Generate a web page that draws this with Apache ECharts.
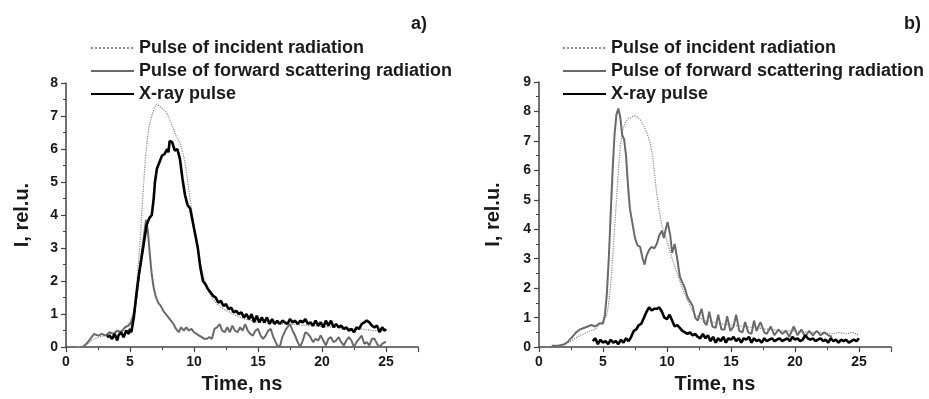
<!DOCTYPE html>
<html><head><meta charset="utf-8">
<script src="https://cdn.jsdelivr.net/npm/echarts@6/dist/echarts.min.js"></script>
<style>html,body{margin:0;padding:0;background:#fff}#c{width:929px;height:399px}</style>
</head><body><div id="c"></div>
<script>
// ---------- DATA (time in ns, intensity in rel. units) ----------
const seriesNames = ['Pulse of incident radiation','Pulse of forward scattering radiation','X-ray pulse'];
const panelLabels = ['a)','b)'];
const xTicks = [0,5,10,15,20,25];

const incidentA = [[0.8,0],[1.5,0.05],[2,0.2],[2.5,0.3],[3,0.35],[3.5,0.4],[4,0.45],[4.5,0.55],[5,0.75],[5.13,0.8],[5.3,1.1],[5.5,1.8],[5.65,2.5],[5.8,3.3],[6.04,4.8],[6.2,5.7],[6.35,6.3],[6.5,6.7],[6.7,7.0],[6.9,7.25],[7.08,7.36],[7.3,7.3],[7.6,7.2],[7.87,7.1],[8.2,6.8],[8.6,6.4],[8.95,6.15],[9.3,5.6],[9.55,4.9],[9.8,4.2],[10.1,3.4],[10.4,2.7],[10.7,2.2],[11,1.8],[11.4,1.5],[11.8,1.3],[12.3,1.15],[12.8,1.05],[13.3,0.95],[14,0.85],[15,0.75],[16,0.72],[17,0.7],[18,0.68],[19,0.65],[20,0.62],[21,0.6],[22,0.55],[23,0.55],[24,0.5],[25,0.5]];

const forwardA = [[1.3,0],[1.6,0.1],[1.9,0.25],[2.2,0.4],[2.5,0.35],[2.8,0.4],[3.1,0.35],[3.4,0.45],[3.7,0.4],[4.0,0.5],[4.3,0.45],[4.6,0.6],[4.9,0.65],[5.1,0.75],[5.3,1.0],[5.5,1.5],[5.7,2.2],[5.9,2.8],[6.1,3.4],[6.25,3.85],[6.4,3.5],[6.55,2.8],[6.7,2.2],[6.85,1.8],[7.0,1.55],[7.2,1.35],[7.4,1.25],[7.6,1.1],[7.8,1.0],[8.0,0.9],[8.2,0.8],[8.4,0.7],[8.6,0.55],[8.8,0.45],[9.0,0.6],[9.2,0.5],[9.4,0.6],[9.6,0.5],[9.8,0.55],[10.0,0.45],[10.2,0.4],[10.4,0.35],[10.6,0.3],[10.8,0.25],[11.0,0.25],[11.2,0.3],[11.4,0.25],[11.6,0.55],[11.8,0.6],[12.0,0.7],[12.2,0.5],[12.4,0.45],[12.6,0.6],[12.8,0.45],[13.0,0.65],[13.2,0.5],[13.4,0.45],[13.6,0.6],[13.8,0.5],[14.0,0.7],[14.2,0.5],[14.4,0.4],[14.6,0.35],[14.8,0.5],[15.0,0.55],[15.2,0.35],[15.4,0.25],[15.6,0.35],[15.8,0.5],[16.0,0.55],[16.2,0.3],[16.5,0.05],[16.7,0.0],[16.9,0.3],[17.2,0.55],[17.5,0.7],[17.7,0.5],[17.9,0.35],[18.1,0.15],[18.3,0.0],[18.5,0.2],[18.7,0.45],[18.9,0.4],[19.1,0.3],[19.3,0.15],[19.5,0.25],[19.7,0.2],[19.9,0.35],[20.1,0.2],[20.3,0.05],[20.5,0.25],[20.7,0.3],[20.9,0.15],[21.1,0.2],[21.3,0.3],[21.5,0.15],[21.7,0.05],[21.9,0.2],[22.1,0.3],[22.3,0.2],[22.5,0.0],[22.7,0.15],[22.9,0.25],[23.1,0.35],[23.3,0.1],[23.5,0.15],[23.7,0.05],[23.9,0.25],[24.1,0.25],[24.3,0.1],[24.5,0.0],[24.7,0.1],[24.9,0.15],[25.0,0.15]];

const xrayA = [[3.2,0.3],[3.4,0.35],[3.6,0.25],[3.8,0.4],[4.0,0.2],[4.1,0.35],[4.3,0.45],[4.5,0.3],[4.7,0.5],[4.9,0.4],[5.0,0.55],[5.1,0.45],[5.3,0.9],[5.5,1.6],[5.7,2.2],[5.9,2.7],[6.1,3.2],[6.3,3.7],[6.5,3.9],[6.7,4.0],[6.85,4.5],[6.95,5.0],[7.1,5.4],[7.3,5.6],[7.5,5.8],[7.7,5.85],[7.9,6.0],[8.0,5.9],[8.1,6.25],[8.3,6.2],[8.5,5.95],[8.7,6.0],[8.9,5.7],[9.1,5.1],[9.3,4.6],[9.5,4.3],[9.7,4.2],[9.9,3.8],[10.1,3.4],[10.3,3.0],[10.5,2.4],[10.7,2.0],[10.9,1.9],[11.1,1.75],[11.3,1.65],[11.5,1.55],[11.7,1.5],[11.9,1.35],[12.1,1.4],[12.3,1.25],[12.5,1.3],[12.7,1.15],[12.9,1.2],[13.1,1.05],[13.3,1.1],[13.5,1.0],[13.7,1.05],[13.9,0.9],[14.1,1.0],[14.3,0.85],[14.5,1.0],[14.7,0.75],[14.9,0.95],[15.1,0.75],[15.3,0.9],[15.5,0.75],[15.7,0.9],[15.9,0.7],[16.1,0.85],[16.3,0.7],[16.5,0.8],[16.7,0.7],[16.9,0.8],[17.1,0.75],[17.3,0.7],[17.5,0.85],[17.7,0.75],[17.9,0.8],[18.1,0.7],[18.3,0.8],[18.5,0.75],[18.7,0.85],[18.9,0.7],[19.1,0.75],[19.3,0.65],[19.5,0.8],[19.7,0.65],[19.9,0.75],[20.1,0.6],[20.3,0.8],[20.5,0.65],[20.7,0.8],[20.9,0.6],[21.1,0.7],[21.3,0.6],[21.5,0.65],[21.7,0.55],[21.9,0.6],[22.1,0.5],[22.3,0.55],[22.5,0.45],[22.7,0.6],[22.9,0.55],[23.1,0.7],[23.3,0.75],[23.5,0.8],[23.7,0.75],[23.9,0.65],[24.1,0.6],[24.3,0.65],[24.5,0.45],[24.7,0.6],[24.9,0.5],[25.0,0.55]];

const incidentB = [[1.0,0],[1.5,0.02],[2.0,0.1],[2.5,0.2],[3.0,0.35],[3.5,0.45],[4.0,0.55],[4.4,0.6],[4.8,0.8],[5.1,0.95],[5.3,1.1],[5.45,1.5],[5.6,2.1],[5.75,3.0],[5.9,4.0],[6.05,5.0],[6.2,6.0],[6.35,6.8],[6.5,7.3],[6.7,7.6],[6.95,7.75],[7.2,7.8],[7.45,7.85],[7.7,7.8],[7.95,7.7],[8.2,7.5],[8.45,7.25],[8.7,6.9],[8.9,6.4],[9.05,5.8],[9.2,5.2],[9.4,4.6],[9.6,4.1],[9.8,3.85],[10.0,3.6],[10.2,3.3],[10.4,3.0],[10.8,2.5],[11.2,2.0],[11.6,1.6],[11.9,1.3],[12.2,1.1],[12.5,1.0],[13.0,0.9],[13.5,0.85],[14,0.8],[15,0.75],[16,0.7],[17,0.65],[18,0.6],[19,0.55],[20,0.55],[21,0.5],[22,0.5],[23,0.45],[23.5,0.5],[24,0.45],[24.5,0.5],[25,0.4]];

const forwardB = [[1.0,0.05],[1.5,0.05],[2.0,0.1],[2.3,0.2],[2.6,0.35],[2.9,0.5],[3.2,0.6],[3.5,0.65],[3.8,0.7],[4.1,0.75],[4.4,0.7],[4.7,0.8],[5.0,0.8],[5.15,1.1],[5.3,1.8],[5.45,3.0],[5.6,4.5],[5.75,6.0],[5.9,7.2],[6.05,7.9],[6.2,8.1],[6.35,7.8],[6.5,7.2],[6.65,7.05],[6.8,6.5],[6.95,5.5],[7.1,4.7],[7.3,4.2],[7.5,3.7],[7.7,3.45],[7.9,3.4],[8.1,3.0],[8.25,2.8],[8.4,3.1],[8.6,3.3],[8.8,3.4],[9.0,3.35],[9.2,3.5],[9.4,3.8],[9.6,3.95],[9.75,3.7],[9.9,4.0],[10.05,4.25],[10.25,3.8],[10.4,3.2],[10.6,3.5],[10.8,3.0],[11.0,2.4],[11.2,2.2],[11.4,2.0],[11.6,1.7],[11.8,1.55],[12.0,1.4],[12.2,1.0],[12.4,0.9],[12.7,1.3],[12.9,0.85],[13.1,0.75],[13.3,1.2],[13.55,0.7],[13.8,0.65],[14.0,1.1],[14.25,0.6],[14.5,0.6],[14.7,1.05],[14.95,0.55],[15.2,0.7],[15.4,1.1],[15.65,0.55],[15.9,0.5],[16.1,0.85],[16.35,0.5],[16.6,0.45],[16.8,0.9],[17.0,0.55],[17.3,0.85],[17.6,0.5],[17.8,0.45],[18.1,0.7],[18.4,0.4],[18.7,0.6],[19.0,0.45],[19.3,0.55],[19.55,0.35],[19.9,0.7],[20.2,0.4],[20.5,0.6],[20.8,0.35],[21.1,0.55],[21.4,0.4],[21.7,0.55],[22.0,0.4],[22.3,0.5],[22.6,0.4],[22.9,0.35]];

const xrayB = [[4.2,0.2],[4.4,0.3],[4.6,0.1],[4.8,0.25],[5.0,0.15],[5.2,0.2],[5.4,0.1],[5.6,0.25],[5.8,0.15],[6.0,0.2],[6.2,0.1],[6.4,0.25],[6.6,0.15],[6.8,0.3],[7.0,0.2],[7.2,0.35],[7.4,0.55],[7.6,0.6],[7.8,0.75],[8.0,0.8],[8.2,1.0],[8.4,1.2],[8.6,1.35],[8.8,1.25],[9.0,1.3],[9.2,1.3],[9.4,1.35],[9.6,1.2],[9.8,1.0],[10.0,0.95],[10.2,1.1],[10.4,0.9],[10.6,0.7],[10.8,0.75],[11.0,0.65],[11.2,0.55],[11.4,0.5],[11.6,0.45],[11.8,0.5],[12.0,0.4],[12.2,0.45],[12.4,0.35],[12.6,0.3],[12.8,0.45],[13.0,0.3],[13.2,0.4],[13.4,0.2],[13.6,0.35],[13.8,0.15],[14.0,0.3],[14.2,0.2],[14.4,0.35],[14.6,0.15],[14.8,0.3],[15.0,0.25],[15.2,0.35],[15.4,0.2],[15.6,0.3],[15.8,0.15],[16.0,0.3],[16.2,0.25],[16.4,0.35],[16.6,0.15],[16.8,0.3],[17.0,0.2],[17.2,0.25],[17.4,0.15],[17.6,0.3],[17.8,0.2],[18.0,0.25],[18.2,0.3],[18.4,0.2],[18.6,0.25],[18.8,0.3],[19.0,0.2],[19.2,0.25],[19.4,0.3],[19.6,0.2],[19.8,0.35],[20.0,0.25],[20.2,0.3],[20.4,0.2],[20.6,0.25],[20.8,0.4],[21.0,0.3],[21.2,0.25],[21.4,0.3],[21.6,0.2],[21.8,0.25],[22.0,0.3],[22.2,0.2],[22.4,0.25],[22.6,0.15],[22.8,0.3],[23.0,0.2],[23.2,0.25],[23.4,0.15],[23.6,0.25],[23.8,0.2],[24.0,0.25],[24.2,0.15],[24.4,0.2],[24.6,0.25],[24.8,0.2],[25.0,0.3]];

const yMaxA = 8, yMaxB = 9;

// ---------- CHART ----------
const FONT = '"Liberation Sans", Arial, sans-serif';
const TXT = '#1a1a1a';
const AX = '#444';
const styles = [
  {color:'#8a8a8a', width:1.2, type:'dotted'},
  {color:'#6a6a6a', width:2, type:'solid'},
  {color:'#000000', width:2.6, type:'solid'}
];
function xAxis(gi){
  return {type:'value', gridIndex:gi, min:0, max:27.5, interval:5,
    name:'Time, ns', nameLocation:'middle', nameGap:24,
    nameTextStyle:{fontFamily:FONT, fontSize:20, fontWeight:'bold', color:TXT},
    axisLine:{lineStyle:{color:AX, width:1.5}},
    axisTick:{length:5, lineStyle:{color:AX, width:1.2}},
    minorTick:{show:true, splitNumber:2, length:3, lineStyle:{color:AX, width:1}},
    axisLabel:{fontFamily:FONT, fontSize:14, fontWeight:'bold', color:TXT, margin:8,
      formatter:v => (xTicks.indexOf(v) >= 0 ? String(v) : '')},
    splitLine:{show:false}};
}
function yAxis(gi, max, gap){
  return {type:'value', gridIndex:gi, min:0, max:max, interval:1,
    name:'I, rel.u.', nameLocation:'middle', nameGap:gap,
    nameTextStyle:{fontFamily:FONT, fontSize:20, fontWeight:'bold', color:TXT},
    axisLine:{show:true, lineStyle:{color:AX, width:1.5}},
    axisTick:{show:true, length:5, lineStyle:{color:AX, width:1.2}},
    minorTick:{show:true, splitNumber:2, length:3, lineStyle:{color:AX, width:1}},
    axisLabel:{fontFamily:FONT, fontSize:14, fontWeight:'bold', color:TXT, margin:8},
    splitLine:{show:false}};
}
function line(name, data, gi, s, z){
  return {type:'line', name:name, data:data, xAxisIndex:gi, yAxisIndex:gi,
    symbol:'none', smooth:false, z:z, animation:false,
    lineStyle:{color:s.color, width:s.width, type:s.type}, itemStyle:{color:s.color}};
}
function legend(left){
  return {orient:'vertical', left:left, top:39, itemWidth:43, itemHeight:14, itemGap:5,
    padding:0, data:seriesNames, selectedMode:false,
    itemStyle:{opacity:0},
    textStyle:{fontFamily:FONT, fontSize:18, lineHeight:18, fontWeight:'bold', color:TXT}};
}
const chart = echarts.init(document.getElementById('c'), null, {renderer:'canvas'});
chart.setOption({
  backgroundColor:'#fff',
  animation:false,
  title:[
    {text:panelLabels[0], left:406, top:10, textStyle:{fontFamily:FONT, fontSize:18, fontWeight:'bold', color:TXT}},
    {text:panelLabels[1], left:899, top:10, textStyle:{fontFamily:FONT, fontSize:18, fontWeight:'bold', color:TXT}}
  ],
  legend:[legend(90), legend(562)],
  grid:[
    {left:66, top:83, width:352, height:267},
    {left:539, top:82, width:352, height:267}
  ],
  xAxis:[xAxis(0), xAxis(1)],
  yAxis:[yAxis(0, yMaxA, 34), yAxis(1, yMaxB, 36)],
  series:[
    line(seriesNames[0], incidentA, 0, styles[0], 2),
    line(seriesNames[1], forwardA, 0, styles[1], 3),
    line(seriesNames[2], xrayA, 0, styles[2], 4),
    line(seriesNames[0], incidentB, 1, styles[0], 2),
    line(seriesNames[1], forwardB, 1, styles[1], 3),
    line(seriesNames[2], xrayB, 1, styles[2], 4)
  ]
});
</script></body></html>
